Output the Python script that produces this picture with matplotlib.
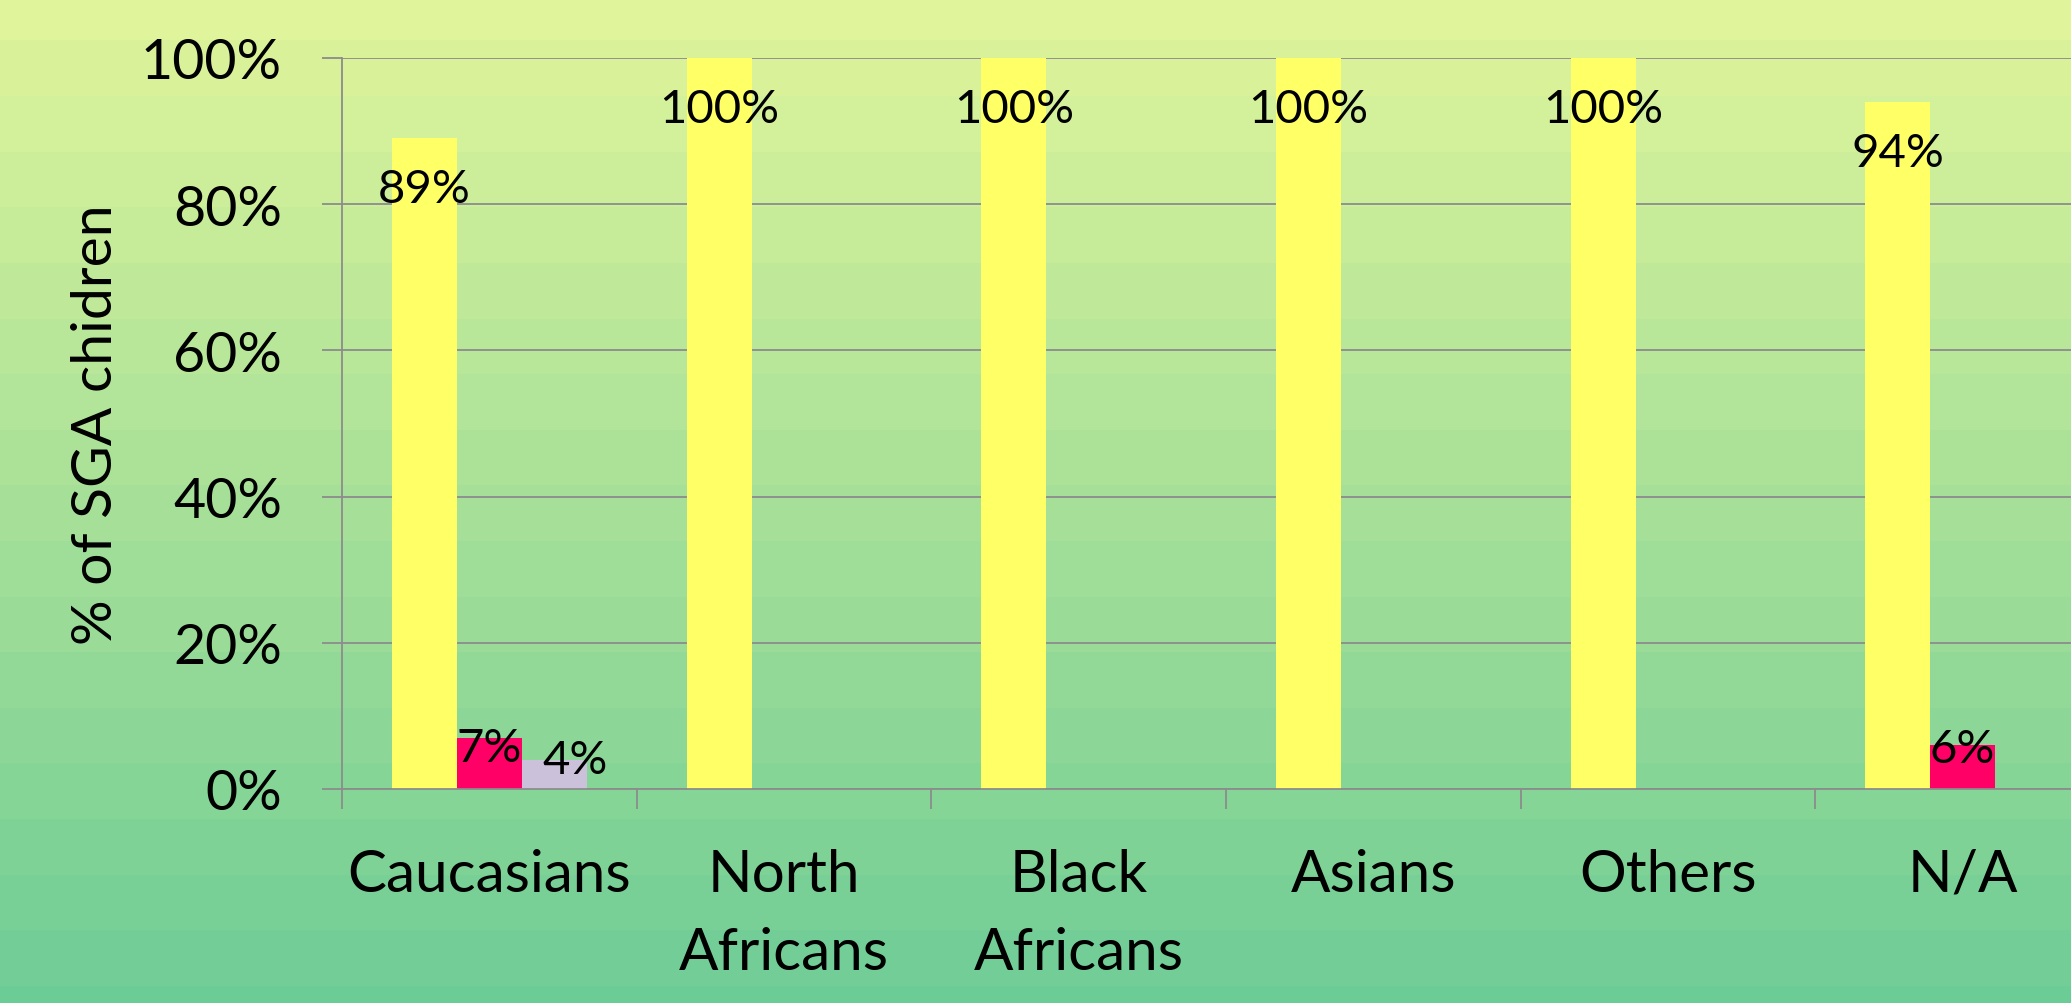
import numpy as np
import matplotlib
matplotlib.use("Agg")
import matplotlib.pyplot as plt
from matplotlib.ticker import FixedLocator, FuncFormatter

# groups on the x axis and the three series per group (percent)
groups = ["Caucasians", "North\nAfricans", "Black\nAfricans", "Asians", "Others", "N/A"]
series_yellow = [89, 100, 100, 100, 100, 94]
series_red = [7, 0, 0, 0, 0, 6]
series_lilac = [4, 0, 0, 0, 0, 0]
y_ticks = [0, 20, 40, 60, 80, 100]

plt.rcParams["font.family"] = ["Lato", "DejaVu Sans"]

W, H, DPI = 2071, 1004, 100
fig = plt.figure(figsize=(W / DPI, H / DPI), dpi=DPI)

# banded vertical gradient behind everything
top = np.array([224, 245, 155]) / 255
bottom = np.array([108, 204, 150]) / 255
rows = np.arange(H)
band = np.where(rows < 41, 0, (rows - 41) // 55.6 + 1)
frac = band / band.max()
grad = top[None, :] * (1 - frac[:, None]) + bottom[None, :] * frac[:, None]
bg = fig.add_axes([0, 0, 1, 1], zorder=0)
bg.imshow(grad[:, None, :], aspect="auto", interpolation="nearest")
bg.axis("off")

# plot area, runs off the right edge of the figure
x0, x1, y_top, y_bot = 342, 2110, 59, 790
ax = fig.add_axes([x0 / W, (H - y_bot) / H, (x1 - x0) / W, (y_bot - y_top) / H], zorder=1)
ax.set_facecolor("none")

grey = "#8c8c8c"
bw = 0.22
centers = np.arange(len(groups)) + 0.5

def px(v):
    return v * 72 / DPI

bars = []
for off, vals, col in [(-bw, series_yellow, "#ffff66"),
                       (0, series_red, "#ff0066"),
                       (bw, series_lilac, "#ccc1da")]:
    b = ax.bar(centers + off, vals, width=bw, color=col, zorder=2)
    bars.append((b, vals))

# value labels, offsets in pixels (dx, dy) per series
label_offsets = [
    [(0, -51)] * 6,
    [(0, -10), None, None, None, None, (0, -4)],
    [(21, 0), None, None, None, None, None],
]
for (b, vals), offs in zip(bars, label_offsets):
    for rect, v, o in zip(b, vals, offs):
        if v == 0 or o is None:
            continue
        ax.annotate(f"{v}%", (rect.get_x() + rect.get_width() / 2, v),
                    xytext=(px(o[0]), px(o[1])), textcoords="offset points",
                    ha="center", va="center", fontsize=34, color="black", zorder=3)

ax.set_xlim(0, len(groups))
ax.set_ylim(0, 100)

ax.yaxis.set_major_locator(FixedLocator(y_ticks))
ax.yaxis.set_major_formatter(FuncFormatter(lambda v, p: f"{int(v)}%"))
ax.yaxis.grid(True, color=grey, lw=1.3, zorder=1)
ax.set_axisbelow(True)
ax.tick_params(axis="y", length=px(20), width=1.3, color=grey, pad=px(40),
               labelsize=40)

# group boundaries get ticks, centers get the names
ax.xaxis.set_major_locator(FixedLocator(np.arange(len(groups) + 1)))
ax.xaxis.set_major_formatter(FuncFormatter(lambda v, p: ""))
ax.xaxis.set_minor_locator(FixedLocator(centers))
ax.set_xticklabels(groups, minor=True, linespacing=1.58)
ax.tick_params(axis="x", which="minor", length=0, pad=px(59), labelsize=42)
ax.tick_params(axis="x", which="major", length=px(20), width=1.3, color=grey)

for s in ["top", "right"]:
    ax.spines[s].set_visible(False)
for s in ["left", "bottom"]:
    ax.spines[s].set_color(grey)
    ax.spines[s].set_linewidth(1.3)

ax.text(-(x0 - 97) / (x1 - x0), 0.5, "% of SGA chidren", transform=ax.transAxes,
        rotation=90, ha="center", va="center", fontsize=41)

fig.savefig("out.png", dpi=DPI)
